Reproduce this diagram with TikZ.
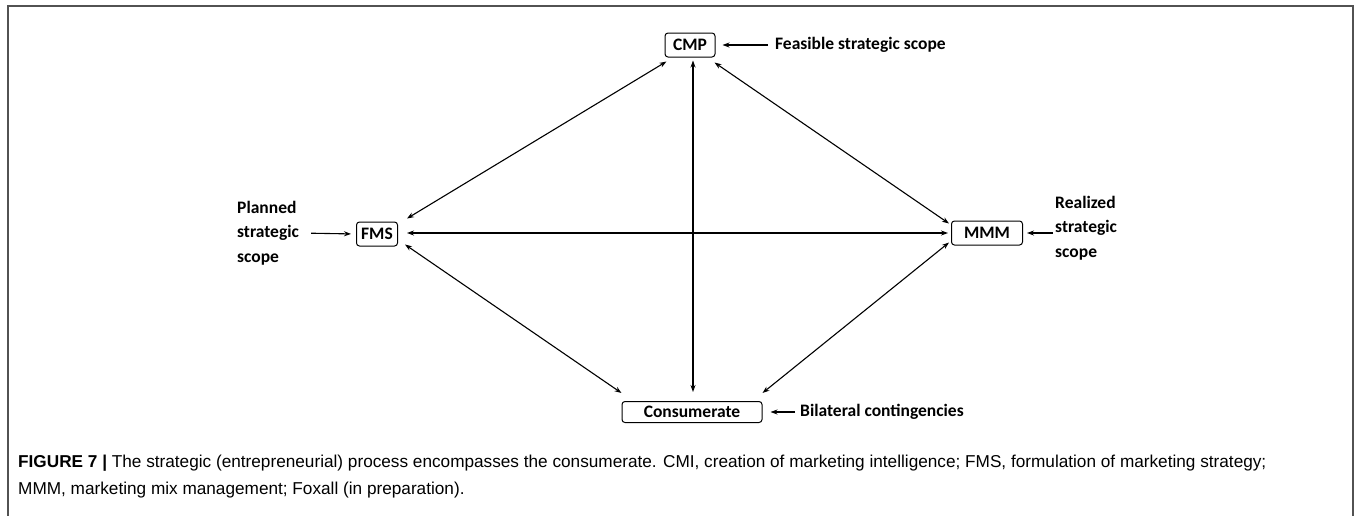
\documentclass[tikz,border=0pt]{standalone}
\usepackage{fontspec}
\usetikzlibrary{arrows.meta,calc}
\newfontfamily\lblfont{Carlito}
\newfontfamily\capfont{Liberation Sans}
\begin{document}
\begin{tikzpicture}[x=1pt,y=-1pt,
  box/.style={draw,rounded corners=3pt,line width=1pt,inner sep=0pt,minimum height=24pt,
    font=\lblfont\bfseries\fontsize{17.5}{21}\selectfont},
  lbl/.style={inner sep=0pt,align=left,font=\lblfont\bfseries\fontsize{17.5}{24.5}\selectfont},
  link/.style={line width=1.1pt,{Stealth[length=7pt,width=5pt]}-{Stealth[length=7pt,width=5pt]}},
  feed/.style={line width=1.1pt,-{Stealth[length=7pt,width=5pt]}},
  captext/.style={inner sep=0pt,anchor=west,font=\capfont\fontsize{17.2}{21}\selectfont}]
\useasboundingbox (0,0) rectangle (1357,515);
\draw[line width=1.5pt,draw=black!68] (8,530) -- (8,6) -- (1353,6) -- (1353,530);
% main nodes
\node[box,minimum width=50pt] (cmp) at (690,45) {CMP};
\node[box,minimum width=41pt] (fms) at (377,234) {FMS};
\node[box,minimum width=71pt] (mmm) at (987,233) {MMM};
\node[box,minimum width=140pt,minimum height=21pt] (con) at (692,412) {Consumerate};
% side labels
\node[lbl,anchor=west] (feas) at (775,45) {Feasible strategic scope};
\node[lbl,anchor=west] (plan) at (237,233) {Planned\\strategic\\scope};
\node[lbl,anchor=west] (real) at (1055,228) {Realized\\strategic\\scope};
\node[lbl,anchor=west] (bil) at (800,412) {Bilateral contingencies};
% feeder arrows
\draw[feed,shorten <=7pt,shorten >=7pt] (feas.west) -- (cmp.east);
\draw[feed,shorten <=12pt,shorten >=5pt] (plan.east) -- (fms.west);
\draw[feed,shorten <=2pt,shorten >=4pt] (real.west |- mmm.east) -- (mmm.east);
\draw[feed,shorten <=5pt,shorten >=8pt] (bil.west) -- (con.east);
% links
\draw[link] ($(cmp.south west)+(2,4)$) -- ($(fms.north east)+(9,-3)$);
\draw[link] ($(cmp.south)+(3,3)$) -- ($(con.north)+(1,-9)$);
\draw[link] ($(cmp.south east)+(-1,5)$) -- ($(mmm.north west)+(-2,3)$);
\draw[link] ($(fms.east)+(9,-1)$) -- ($(mmm.west)+(-3,0)$);
\draw[link] ($(fms.south east)+(7,-2)$) -- ($(con.north west)+(0,-8)$);
\draw[link] ($(mmm.south west)+(-2,-3)$) -- ($(con.north east)+(0,-8)$);
% caption
\node[captext] (cap1) at (18,463) {{\bfseries FIGURE 7 |} The strategic (entrepreneurial) process encompasses the consumerate. CMI, creation of marketing intelligence; FMS, formulation of marketing strategy;};
\node[captext] (cap2) at (18,490) {MMM, marketing mix management; Foxall (in preparation).};
\end{tikzpicture}
\end{document}
